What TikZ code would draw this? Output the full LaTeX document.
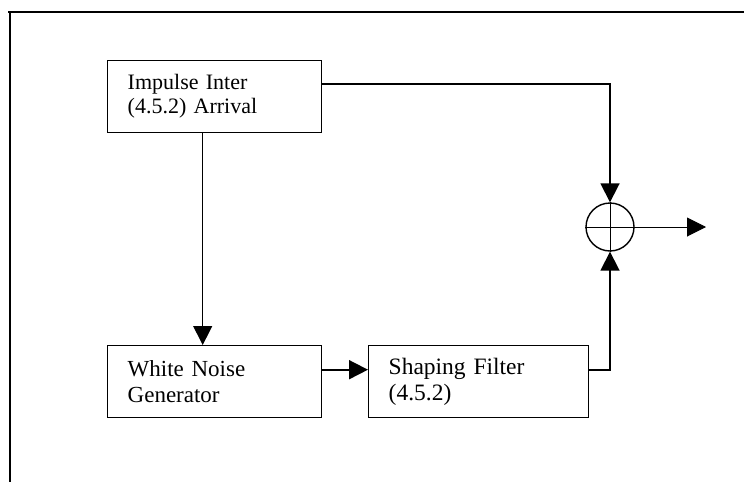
\documentclass[tikz,border=0pt]{standalone}
\usepackage{fontspec}
\setmainfont{Liberation Serif}
\usetikzlibrary{arrows.meta}
\begin{document}
\begin{tikzpicture}[x=1pt,y=-1pt,
  blk/.style={draw,line width=1.4pt,minimum width=214pt,minimum height=72pt,
    inner xsep=20pt,text width=174pt,align=left,anchor=north west},
  conn/.style={line width=1.8pt},
  thin/.style={line width=1pt},
  tip/.style={-{Triangle[length=19pt,width=19pt]}}]
\useasboundingbox (0,0) rectangle (744,482);
% frame
\draw[line width=1.5pt] (8,12) -- (744,12);
\draw[line width=1.5pt] (10,12) -- (10,482);
% blocks
\node[blk,font=\fontsize{22}{24}\selectfont] (imp) at (107,60) {Impulse Inter\\(4.5.2) Arrival};
\node[blk,font=\fontsize{23}{26}\selectfont] (wn) at (107,345) {White Noise\\Generator};
\node[blk,minimum width=219pt,text width=180pt,font=\fontsize{23.5}{26}\selectfont] (sf) at (368,345) {Shaping Filter\\(4.5.2)};
\node[draw,circle,line width=1.4pt,minimum size=48pt,inner sep=0pt] (sum) at (610,227) {};
\draw[thin] (sum.west) -- (sum.east);
\draw[thin] (sum.north) -- (sum.south);
\coordinate (out) at (706,227);
% connectors
\draw[conn,tip] ([yshift=12.5pt]imp.east) -| (sum.north);
\draw[thin,tip] ([xshift=-12pt]imp.south) -- ([xshift=-12pt]wn.north);
\draw[conn,tip] ([yshift=12pt]wn.east) -- ([yshift=12pt]sf.west);
\draw[conn,tip] ([yshift=12pt]sf.east) -| (sum.south);
\draw[thin,tip] (sum.east) -- (out);
\end{tikzpicture}
\end{document}
